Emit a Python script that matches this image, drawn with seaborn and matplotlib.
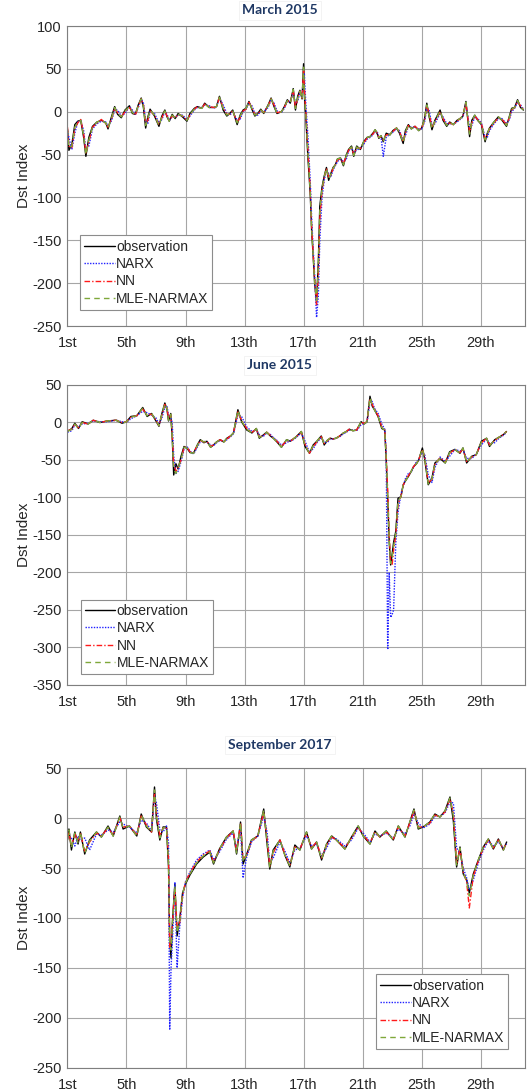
import matplotlib
matplotlib.use('Agg')
import pandas as pd
import seaborn as sns
import matplotlib.pyplot as plt

# ---------- March 2015 ----------
days_mar = [1.0, 1.1, 1.3, 1.5, 1.7, 1.9, 2.1, 2.25, 2.45, 2.7,
            3.0, 3.3, 3.6, 3.75, 4.0, 4.2, 4.4, 4.65, 4.9, 5.2,
            5.4, 5.6, 5.8, 6.0, 6.15, 6.3, 6.45, 6.6, 6.9, 7.2,
            7.4, 7.6, 7.75, 7.9, 8.1, 8.3, 8.5, 8.8, 9.1, 9.3,
            9.6, 9.8, 10.1, 10.3, 10.6, 10.9, 11.1, 11.3, 11.55, 11.8,
            12.0, 12.2, 12.5, 12.7, 12.9, 13.1, 13.3, 13.5, 13.7, 13.9,
            14.1, 14.3, 14.6, 14.8, 15.0, 15.2, 15.5, 15.7, 15.9, 16.1,
            16.3, 16.45, 16.6, 16.75, 16.9, 17.0, 17.05, 17.15, 17.3, 17.45,
            17.55, 17.65, 17.75, 17.88, 18.0, 18.1, 18.25, 18.4, 18.55, 18.7,
            18.85, 19.0, 19.15, 19.3, 19.5, 19.7, 19.9, 20.05, 20.25, 20.4,
            20.6, 20.85, 21.07, 21.3, 21.5, 21.7, 21.85, 22.0, 22.1, 22.25,
            22.4, 22.6, 22.85, 23.05, 23.3, 23.5, 23.75, 23.9, 24.1, 24.3,
            24.55, 24.8, 25.0, 25.2, 25.35, 25.5, 25.7, 25.9, 26.25, 26.45,
            26.7, 26.9, 27.15, 27.4, 27.6, 27.8, 28.0, 28.25, 28.4, 28.6,
            28.8, 29.05, 29.3, 29.45, 29.6, 29.9, 30.2, 30.45, 30.75, 30.95,
            31.1, 31.3, 31.5, 31.7, 31.9]
obs_mar = [-20, -45, -38, -15, -11, -10, -30, -52, -30, -17,
           -12, -10, -13, -20, -5, 6, -3, -7, 2, 7,
           -2, -3, 8, 16, 5, -19, -6, 3, -5, -17,
           -5, 2, -6, -11, -3, -8, -2, -6, -11, -2,
           4, 6, 4, 10, 5, 5, 6, 18, 2, -5,
           -2, 2, -15, -4, 2, 4, 12, 3, -5, -2,
           3, -2, 8, 16, 6, -2, 0, 6, 14, 10,
           27, 2, 18, 25, 15, 56, 20, -5, -55, -95,
           -140, -168, -200, -222, -175, -110, -88, -75, -65, -80,
           -72, -65, -62, -55, -54, -63, -50, -44, -40, -52,
           -40, -44, -35, -30, -29, -25, -21, -26, -31, -28,
           -35, -25, -27, -22, -19, -25, -37, -22, -15, -20,
           -17, -22, -19, -8, 10, -5, -21, -10, 2, -10,
           -17, -12, -15, -10, -8, -5, 12, -29, -10, -4,
           -10, -15, -35, -25, -19, -12, -6, -10, -17, -5,
           4, 5, 14, 5, 2]
narx_mar = [-22, -30, -44, -25, -12, -10, -22, -45, -40, -20,
            -14, -11, -12, -17, -10, 2, 2, -5, -2, 6,
            2, -3, 5, 14, 10, -10, -14, 0, -2, -13,
            -9, 0, -3, -10, -6, -6, -4, -4, -9, -5,
            2, 5, 5, 8, 7, 4, 6, 16, 8, -2,
            -4, 0, -10, -9, 0, 3, 10, 7, -2, -4,
            1, 0, 5, 14, 10, 1, -1, 4, 12, 12,
            22, 10, 12, 22, 18, 40, 45, 10, -30, -80,
            -125, -160, -190, -240, -215, -150, -100, -80, -68, -72,
            -76, -68, -63, -58, -55, -58, -55, -46, -42, -47,
            -45, -42, -38, -32, -30, -27, -23, -24, -29, -30,
            -52, -30, -26, -24, -20, -22, -33, -28, -17, -18,
            -18, -20, -20, -12, 4, 2, -15, -14, -2, -6,
            -14, -14, -14, -12, -9, -6, 8, -18, -16, -6,
            -8, -13, -30, -30, -22, -14, -8, -8, -14, -9,
            0, 4, 11, 8, 3]
nn_mar = [-18, -40, -42, -20, -13, -9, -26, -48, -35, -18,
          -13, -9, -14, -18, -8, 4, -1, -6, 0, 5,
          0, -4, 6, 15, 8, -14, -10, 1, -4, -15,
          -7, 1, -5, -10, -5, -7, -3, -5, -10, -4,
          3, 6, 4, 9, 6, 5, 5, 17, 5, -3,
          -3, 1, -12, -7, 1, 3, 11, 5, -3, -3,
          2, -1, 7, 15, 8, -1, 0, 5, 13, 11,
          25, 5, 15, 24, 16, 48, 30, 0, -45, -90,
          -135, -165, -195, -225, -190, -125, -92, -78, -66, -76,
          -74, -66, -62, -56, -55, -60, -52, -45, -41, -50,
          -42, -43, -36, -31, -29, -26, -22, -25, -30, -29,
          -33, -27, -26, -23, -19, -23, -35, -25, -16, -19,
          -17, -21, -19, -10, 7, -2, -18, -12, 0, -8,
          -15, -13, -15, -11, -8, -5, 10, -24, -13, -5,
          -9, -14, -32, -27, -20, -13, -7, -9, -15, -7,
          2, 5, 12, 7, 3]
mle_mar = [-21, -42, -40, -18, -12, -10, -28, -50, -33, -18,
           -12, -10, -13, -19, -7, 5, -2, -6, 1, 6,
           -1, -3, 7, 15, 6, -16, -8, 2, -4, -16,
           -6, 1, -5, -11, -4, -7, -3, -5, -10, -3,
           3, 5, 4, 9, 5, 5, 6, 17, 4, -4,
           -2, 1, -13, -5, 1, 4, 11, 4, -4, -2,
           2, -1, 7, 15, 7, -2, 0, 5, 13, 10,
           26, 4, 16, 24, 15, 52, 25, -2, -50, -92,
           -138, -166, -198, -220, -180, -115, -90, -76, -66, -78,
           -73, -66, -62, -55, -54, -62, -51, -44, -41, -51,
           -41, -44, -35, -30, -29, -25, -21, -25, -30, -28,
           -34, -26, -27, -22, -19, -24, -36, -24, -15, -20,
           -17, -22, -19, -9, 8, -4, -20, -11, 1, -9,
           -16, -12, -15, -10, -8, -5, 11, -26, -11, -4,
           -10, -14, -33, -26, -19, -12, -6, -10, -16, -6,
           3, 5, 13, 6, 2]

# ---------- June 2015 ----------
days_jun = [1.0, 1.3, 1.5, 1.75, 2.0, 2.4, 2.75, 3.2, 3.7, 4.3,
            4.7, 5.0, 5.3, 5.7, 6.1, 6.4, 6.7, 7.0, 7.2, 7.4,
            7.6, 7.75, 7.85, 8.0, 8.1, 8.2, 8.35, 8.5, 8.7, 8.9,
            9.1, 9.3, 9.55, 9.8, 10.0, 10.25, 10.45, 10.7, 10.9, 11.1,
            11.35, 11.6, 11.8, 12.05, 12.25, 12.55, 12.8, 13.15, 13.5, 13.8,
            14.0, 14.25, 14.5, 14.75, 14.95, 15.2, 15.5, 15.85, 16.1, 16.3,
            16.5, 16.85, 17.1, 17.4, 17.65, 17.9, 18.2, 18.4, 18.6, 18.8,
            19.0, 19.2, 19.45, 19.7, 19.9, 20.1, 20.35, 20.6, 20.9, 21.1,
            21.3, 21.5, 21.65, 21.8, 22.05, 22.3, 22.5, 22.6, 22.7, 22.8,
            22.9, 23.0, 23.1, 23.25, 23.4, 23.6, 23.75, 23.9, 24.1, 24.3,
            24.45, 24.65, 24.8, 25.05, 25.2, 25.45, 25.7, 25.9, 26.25, 26.6,
            26.9, 27.25, 27.6, 27.8, 28.05, 28.4, 28.7, 29.05, 29.4, 29.6,
            29.95, 30.3, 30.55, 30.75]
obs_jun = [-12, -8, -1, -8, 1, -2, 3, 0, 2, 3,
           -1, 1, 8, 9, 20, 8, 12, 2, -5, 12,
           26, 17, 2, 12, -20, -70, -55, -62, -45, -32,
           -34, -40, -41, -30, -23, -27, -25, -33, -30, -26,
           -23, -26, -21, -18, -14, 17, 1, -10, -14, -8,
           -21, -17, -13, -18, -21, -26, -33, -23, -25, -22,
           -19, -12, -32, -41, -30, -25, -18, -30, -24, -21,
           -22, -21, -18, -14, -12, -9, -11, -10, 1, -2,
           1, 35, 22, 17, 8, -8, -10, -50, -101, -158,
           -190, -176, -160, -145, -101, -99, -83, -78, -72, -65,
           -59, -55, -50, -34, -48, -83, -74, -54, -48, -54,
           -39, -36, -41, -34, -54, -45, -43, -25, -21, -32,
           -23, -19, -16, -12]
narx_jun = [-13, -11, -3, -6, -2, -1, 2, 1, 1, 3,
            1, 0, 5, 9, 15, 13, 10, 6, -2, 6,
            20, 22, 8, 8, 0, -45, -68, -65, -52, -36,
            -32, -38, -42, -33, -26, -25, -26, -30, -31, -27,
            -24, -25, -23, -19, -15, 10, 8, -6, -12, -10,
            -16, -19, -14, -16, -20, -24, -30, -27, -24, -23,
            -20, -14, -25, -40, -35, -27, -20, -26, -27, -22,
            -22, -21, -19, -15, -13, -10, -10, -11, -3, -1,
            0, 28, 28, 19, 12, -2, -9, -40, -303, -200,
            -260, -256, -250, -160, -120, -95, -85, -75, -68, -66,
            -60, -52, -50, -40, -42, -70, -80, -60, -46, -52,
            -45, -36, -38, -36, -48, -48, -42, -30, -22, -28,
            -27, -20, -17, -13]
nn_jun = [-11, -9, -2, -7, 0, -2, 3, 0, 2, 3,
          0, 1, 7, 9, 18, 10, 11, 3, -4, 10,
          24, 19, 4, 10, -15, -55, -65, -60, -50, -33,
          -33, -39, -40, -31, -24, -26, -25, -32, -30, -26,
          -23, -26, -22, -18, -14, 14, 3, -8, -13, -9,
          -19, -18, -13, -17, -21, -25, -32, -24, -25, -22,
          -19, -13, -29, -41, -32, -26, -19, -28, -25, -21,
          -22, -21, -18, -14, -12, -9, -11, -10, 0, -1,
          1, 32, 24, 18, 9, -6, -10, -45, -90, -150,
          -185, -190, -170, -150, -110, -98, -84, -77, -71, -65,
          -59, -54, -50, -36, -46, -80, -76, -56, -47, -53,
          -41, -36, -40, -35, -52, -46, -43, -27, -21, -30,
          -24, -19, -16, -12]
mle_jun = [-12, -9, -2, -8, 0, -2, 3, 0, 2, 3,
           -1, 1, 7, 9, 19, 9, 12, 3, -4, 11,
           25, 18, 3, 11, -18, -62, -68, -61, -49, -33,
           -34, -40, -41, -31, -23, -26, -25, -33, -30, -26,
           -23, -26, -21, -18, -14, 16, 2, -9, -14, -8,
           -20, -17, -13, -18, -21, -26, -33, -23, -25, -22,
           -19, -12, -31, -41, -31, -25, -18, -29, -24, -21,
           -22, -21, -18, -14, -12, -9, -11, -10, 1, -2,
           1, 33, 23, 17, 8, -7, -10, -48, -98, -155,
           -188, -180, -165, -148, -105, -99, -83, -78, -72, -65,
           -59, -55, -50, -35, -47, -82, -75, -55, -48, -54,
           -40, -36, -41, -34, -53, -45, -43, -26, -21, -31,
           -23, -19, -16, -12]

# ---------- September 2017 ----------
days_sep = [1.0, 1.1, 1.27, 1.5, 1.72, 1.88, 2.17, 2.5, 2.97, 3.3,
            3.75, 4.1, 4.55, 4.77, 5.2, 5.7, 6.0, 6.35, 6.7, 6.9,
            7.03, 7.26, 7.48, 7.71, 7.85, 7.93, 8.02, 8.12, 8.28, 8.43,
            8.6, 8.8, 9.0, 9.3, 9.75, 10.2, 10.65, 10.9, 11.3, 11.78,
            12.23, 12.46, 12.73, 12.9, 13.13, 13.47, 13.9, 14.3, 14.53, 14.71,
            14.94, 15.4, 15.73, 16.07, 16.41, 16.75, 17.2, 17.54, 17.88, 18.22,
            18.56, 18.9, 19.23, 19.8, 20.25, 20.7, 21.04, 21.5, 21.84, 22.17,
            22.6, 23.08, 23.42, 23.87, 24.2, 24.48, 24.77, 25.1, 25.56, 25.9,
            26.24, 26.58, 26.92, 27.15, 27.37, 27.6, 27.82, 28.05, 28.23, 28.5,
            28.84, 29.18, 29.52, 29.86, 30.2, 30.54, 30.76]
obs_sep = [-22, -11, -32, -14, -26, -14, -36, -22, -14, -19,
           -8, -18, 2, -11, -8, -18, 4, -9, -14, 31,
           -1, -22, -9, -9, -49, -122, -140, -102, -66, -118,
           -102, -75, -66, -57, -46, -39, -34, -46, -31, -19,
           -13, -36, -4, -46, -37, -22, -18, 9, -26, -51,
           -32, -22, -37, -49, -27, -32, -14, -31, -24, -42,
           -26, -18, -22, -31, -19, -8, -18, -26, -13, -19,
           -13, -22, -8, -19, -4, 9, -11, -9, -4, 4,
           1, 7, 21, -3, -49, -29, -56, -62, -75, -56,
           -42, -29, -21, -31, -21, -32, -24]
narx_sep = [-20, -18, -20, -28, -18, -22, -20, -32, -16, -17,
            -12, -14, -4, -6, -9, -15, -2, -5, -13, 22,
            15, -12, -14, -8, -25, -212, -150, -120, -64, -150,
            -110, -80, -64, -54, -42, -36, -32, -42, -34, -21,
            -15, -30, -10, -60, -40, -24, -18, 2, -14, -45,
            -40, -24, -33, -45, -32, -30, -18, -28, -26, -38,
            -30, -20, -21, -28, -22, -10, -15, -24, -16, -18,
            -15, -20, -11, -16, -8, 4, -5, -10, -6, 2,
            2, 5, 16, 15, -30, -35, -50, -60, -72, -62,
            -45, -32, -23, -28, -24, -30, -26]
nn_sep = [-21, -14, -28, -16, -24, -15, -33, -24, -15, -18,
          -10, -17, 0, -9, -8, -17, 2, -7, -14, 25,
          5, -18, -10, -9, -40, -130, -125, -105, -70, -110,
          -105, -78, -64, -55, -44, -37, -33, -44, -32, -20,
          -13, -33, -6, -40, -38, -23, -18, 6, -22, -48,
          -35, -22, -36, -47, -29, -31, -15, -30, -24, -40,
          -27, -19, -22, -30, -20, -9, -17, -25, -14, -19,
          -14, -21, -9, -18, -5, 7, -9, -9, -5, 3,
          1, 6, 19, 5, -45, -31, -54, -64, -90, -58,
          -43, -30, -22, -30, -22, -31, -25]
mle_sep = [-22, -12, -30, -15, -25, -14, -35, -23, -14, -19,
           -9, -18, 1, -10, -8, -18, 3, -8, -14, 28,
           2, -20, -10, -9, -45, -125, -132, -104, -68, -115,
           -104, -76, -65, -56, -45, -38, -34, -45, -31, -19,
           -13, -35, -5, -44, -37, -22, -18, 8, -24, -50,
           -33, -22, -37, -48, -28, -32, -14, -31, -24, -41,
           -26, -18, -22, -31, -19, -8, -18, -26, -13, -19,
           -13, -22, -8, -19, -4, 8, -10, -9, -4, 4,
           1, 7, 20, 2, -47, -30, -55, -63, -78, -57,
           -42, -29, -21, -31, -21, -32, -24]

day_ticks = [1, 5, 9, 13, 17, 21, 25, 29]
day_labels = ['1st', '5th', '9th', '13th', '17th', '21th', '25th', '29th']

models = ['observation', 'NARX', 'NN', 'MLE-NARMAX']
colors = {'observation': 'black', 'NARX': '#2020ff', 'NN': '#ff1a1a', 'MLE-NARMAX': '#7fa83a'}
dashes = {'observation': '', 'NARX': (1, 1), 'NN': (4, 1.5, 1, 1.5), 'MLE-NARMAX': (4, 3)}


def long_frame(days, series):
    frames = [pd.DataFrame({'day': days, 'dst': vals, 'model': name})
              for name, vals in zip(models, series)]
    return pd.concat(frames, ignore_index=True)


sns.set_style('whitegrid')
plt.rcParams['font.family'] = ['Liberation Sans', 'DejaVu Sans']
plt.rcParams['axes.unicode_minus'] = False

panels = [
    ('March 2015', long_frame(days_mar, [obs_mar, narx_mar, nn_mar, mle_mar]),
     (-250, 100), 0.7009, 0.9908, dict(loc='lower left', bbox_to_anchor=(0.027, 0.053))),
    ('June 2015', long_frame(days_jun, [obs_jun, narx_jun, nn_jun, mle_jun]),
     (-350, 50), 0.3716, 0.6650, dict(loc='lower left', bbox_to_anchor=(0.029, 0.035))),
    ('September 2017', long_frame(days_sep, [obs_sep, narx_sep, nn_sep, mle_sep]),
     (-250, 50), 0.0202, 0.3165, dict(loc='lower right', bbox_to_anchor=(0.964, 0.063))),
]

fig = plt.figure(figsize=(5.31, 10.9), dpi=100)

for title, df, ylim, bottom, title_y, leg_pos in panels:
    ax = fig.add_axes([0.127, bottom, 0.8616, 0.2752])
    sns.lineplot(data=df, x='day', y='dst', hue='model', style='model',
                 hue_order=models, style_order=models, palette=colors,
                 dashes=dashes, estimator=None, sort=False, lw=1.0,
                 legend=False, ax=ax)
    ax.set_xlim(1, 32)
    ax.set_ylim(*ylim)
    ax.set_yticks(range(ylim[0], ylim[1] + 1, 50))
    ax.set_xticks(day_ticks)
    ax.set_xticklabels(day_labels)
    ax.set_xlabel('')
    ax.set_ylabel('Dst Index', fontsize=11, labelpad=1)
    ax.grid(True, color='#a6a6a6', lw=0.8)
    ax.tick_params(axis='both', direction='in', length=3, labelsize=10.5,
                   color='#7f7f7f', labelcolor='#262626')
    ax.tick_params(axis='x', pad=7)
    ax.tick_params(axis='y', pad=4)
    for sp in ax.spines.values():
        sp.set_color('#7f7f7f')
        sp.set_linewidth(0.8)

    handles = ax.get_lines()[:4]
    leg = ax.legend(handles, models, fontsize=10, frameon=True, fancybox=False,
                    framealpha=1, edgecolor='#8c8c8c', handlelength=2.2,
                    handletextpad=0.1, labelspacing=0.25, borderpad=0.3,
                    borderaxespad=0, **leg_pos)
    leg.get_frame().set_linewidth(0.8)

    fig.text(0.527, title_y, title, ha='center', va='center', fontsize=10,
             fontweight='bold', color='#1f3864', family=['Lato', 'DejaVu Sans'],
             bbox=dict(facecolor='white', edgecolor='#eeeeee', lw=0.5, pad=2.5))

fig.savefig('out.png', dpi=100)
